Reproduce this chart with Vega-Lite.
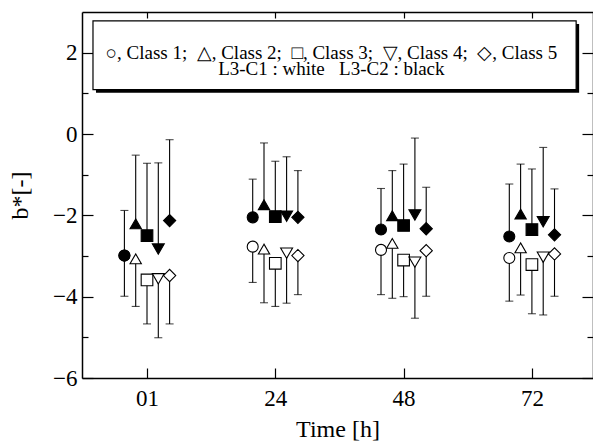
{
  "$schema": "https://vega.github.io/schema/vega-lite/v6.json",
  "width": 511,
  "height": 366,
  "autosize": {"type": "none"},
  "padding": {"left": 82, "top": 12, "right": 0, "bottom": 67},
  "background": "white",
  "resolve": {"scale": {"x": "independent", "xOffset": "independent"}, "axis": {"x": "independent", "y": "independent"}},
  "layer": [
    {
      "data": {
        "values": [
          {"time": "01", "cls": "Class 1", "set": "L3-C1", "mean": -2.99, "end": -3.99},
          {"time": "01", "cls": "Class 2", "set": "L3-C1", "mean": -3.07, "end": -4.24},
          {"time": "01", "cls": "Class 3", "set": "L3-C1", "mean": -3.59, "end": -4.67},
          {"time": "01", "cls": "Class 4", "set": "L3-C1", "mean": -3.56, "end": -5.01},
          {"time": "01", "cls": "Class 5", "set": "L3-C1", "mean": -3.48, "end": -4.67},
          {"time": "24", "cls": "Class 1", "set": "L3-C1", "mean": -2.77, "end": -3.65},
          {"time": "24", "cls": "Class 2", "set": "L3-C1", "mean": -2.83, "end": -4.15},
          {"time": "24", "cls": "Class 3", "set": "L3-C1", "mean": -3.18, "end": -4.24},
          {"time": "24", "cls": "Class 4", "set": "L3-C1", "mean": -2.93, "end": -4.16},
          {"time": "24", "cls": "Class 5", "set": "L3-C1", "mean": -2.99, "end": -3.95},
          {"time": "48", "cls": "Class 1", "set": "L3-C1", "mean": -2.85, "end": -3.95},
          {"time": "48", "cls": "Class 2", "set": "L3-C1", "mean": -2.69, "end": -4.04},
          {"time": "48", "cls": "Class 3", "set": "L3-C1", "mean": -3.10, "end": -4.00},
          {"time": "48", "cls": "Class 4", "set": "L3-C1", "mean": -3.15, "end": -4.53},
          {"time": "48", "cls": "Class 5", "set": "L3-C1", "mean": -2.87, "end": -3.99},
          {"time": "72", "cls": "Class 1", "set": "L3-C1", "mean": -3.05, "end": -4.11},
          {"time": "72", "cls": "Class 2", "set": "L3-C1", "mean": -2.80, "end": -3.96},
          {"time": "72", "cls": "Class 3", "set": "L3-C1", "mean": -3.21, "end": -4.42},
          {"time": "72", "cls": "Class 4", "set": "L3-C1", "mean": -3.03, "end": -4.45},
          {"time": "72", "cls": "Class 5", "set": "L3-C1", "mean": -2.95, "end": -3.99},
          {"time": "01", "cls": "Class 1", "set": "L3-C2", "mean": -2.99, "end": -1.88},
          {"time": "01", "cls": "Class 2", "set": "L3-C2", "mean": -2.21, "end": -0.52},
          {"time": "01", "cls": "Class 3", "set": "L3-C2", "mean": -2.50, "end": -0.72},
          {"time": "01", "cls": "Class 4", "set": "L3-C2", "mean": -2.83, "end": -0.71},
          {"time": "01", "cls": "Class 5", "set": "L3-C2", "mean": -2.13, "end": -0.14},
          {"time": "24", "cls": "Class 1", "set": "L3-C2", "mean": -2.05, "end": -1.11},
          {"time": "24", "cls": "Class 2", "set": "L3-C2", "mean": -1.74, "end": -0.22},
          {"time": "24", "cls": "Class 3", "set": "L3-C2", "mean": -2.03, "end": -0.67},
          {"time": "24", "cls": "Class 4", "set": "L3-C2", "mean": -2.02, "end": -0.56},
          {"time": "24", "cls": "Class 5", "set": "L3-C2", "mean": -2.05, "end": -0.90},
          {"time": "48", "cls": "Class 1", "set": "L3-C2", "mean": -2.35, "end": -1.34},
          {"time": "48", "cls": "Class 2", "set": "L3-C2", "mean": -2.01, "end": -0.90},
          {"time": "48", "cls": "Class 3", "set": "L3-C2", "mean": -2.25, "end": -0.74},
          {"time": "48", "cls": "Class 4", "set": "L3-C2", "mean": -1.99, "end": -0.10},
          {"time": "48", "cls": "Class 5", "set": "L3-C2", "mean": -2.33, "end": -1.31},
          {"time": "72", "cls": "Class 1", "set": "L3-C2", "mean": -2.52, "end": -1.23},
          {"time": "72", "cls": "Class 2", "set": "L3-C2", "mean": -1.97, "end": -0.74},
          {"time": "72", "cls": "Class 3", "set": "L3-C2", "mean": -2.35, "end": -0.86},
          {"time": "72", "cls": "Class 4", "set": "L3-C2", "mean": -2.16, "end": -0.33},
          {"time": "72", "cls": "Class 5", "set": "L3-C2", "mean": -2.48, "end": -1.35}
        ]
      },
      "resolve": {"axis": {"x": "independent", "y": "independent"}},
      "layer": [
        {
          "mark": {"type": "rule", "color": "black", "strokeWidth": 1.1},
          "encoding": {
            "x": {"field": "time", "type": "ordinal",
                  "scale": {"type": "point", "domain": ["01", "24", "48", "72"], "padding": 0.4914, "align": 0.5155},
                  "axis": {"orient": "bottom", "labelAngle": 0, "tickSize": -10, "labelPadding": 19,
                           "title": "Time [h]", "titlePadding": 7}},
            "xOffset": {"field": "cls", "type": "nominal",
                        "scale": {"type": "point", "padding": 0, "range": [-22.6, 22.6]}},
            "y": {"field": "mean", "type": "quantitative",
                  "scale": {"domain": [-6, 3], "nice": false, "zero": false},
                  "axis": {"orient": "left", "values": [-6, -5, -4, -3, -2, -1, 0, 1, 2],
                           "labelExpr": "datum.value % 2 == 0 ? datum.label : ''",
                           "tickSize": {"condition": {"test": "datum.value % 2 == 0", "value": -11}, "value": -6},
                           "labelPadding": 16,
                           "title": "b*[-]", "titlePadding": 20}},
            "y2": {"field": "end"}
          }
        },
        {
          "mark": {"type": "tick", "color": "black", "orient": "horizontal", "size": 8, "thickness": 1.1},
          "encoding": {
            "x": {"field": "time", "type": "ordinal",
                  "scale": {"type": "point", "domain": ["01", "24", "48", "72"], "padding": 0.4914, "align": 0.5155},
                  "axis": {"orient": "top", "labels": false, "tickSize": -6, "title": null}},
            "xOffset": {"field": "cls", "type": "nominal",
                        "scale": {"type": "point", "padding": 0, "range": [-22.6, 22.6]}},
            "y": {"field": "end", "type": "quantitative",
                  "axis": {"orient": "right", "values": [-6, -5, -4, -3, -2, -1, 0, 1, 2], "labels": false,
                           "tickSize": {"condition": {"test": "datum.value % 2 == 0", "value": -11}, "value": -6},
                           "title": null}}
          }
        },
        {
          "mark": {"type": "point", "filled": false, "stroke": "black", "strokeWidth": 1.1, "opacity": 1},
          "encoding": {
            "x": {"field": "time", "type": "ordinal",
                  "scale": {"type": "point", "domain": ["01", "24", "48", "72"], "padding": 0.4914, "align": 0.5155},
                  "axis": null},
            "xOffset": {"field": "cls", "type": "nominal",
                        "scale": {"type": "point", "padding": 0, "range": [-22.6, 22.6]}},
            "y": {"field": "mean", "type": "quantitative", "axis": null},
            "shape": {"field": "cls", "type": "nominal", "legend": null,
                      "scale": {"domain": ["Class 1", "Class 2", "Class 3", "Class 4", "Class 5"],
                                "range": ["circle", "triangle-up", "square", "triangle-down", "diamond"]}},
            "size": {"field": "cls", "type": "nominal", "legend": null,
                     "scale": {"domain": ["Class 1", "Class 2", "Class 3", "Class 4", "Class 5"],
                               "range": [121, 150, 121, 150, 196]}},
            "fill": {"field": "set", "type": "nominal", "legend": null,
                     "scale": {"domain": ["L3-C1", "L3-C2"], "range": ["white", "black"]}}
          }
        }
      ]
    },
    {
      "data": {"values": [{"x0": 0.0215, "x1": 0.967, "y0": 2.78, "y1": 1.09}]},
      "layer": [
        {
          "mark": {"type": "rect", "fill": "black", "xOffset": 3, "x2Offset": 3, "yOffset": 3, "y2Offset": 3},
          "encoding": {
            "x": {"field": "x0", "type": "quantitative", "scale": {"domain": [0, 1], "nice": false, "zero": false}, "axis": null},
            "x2": {"field": "x1"},
            "y": {"field": "y0", "type": "quantitative", "axis": null},
            "y2": {"field": "y1"}
          }
        },
        {
          "mark": {"type": "rect", "fill": "white", "stroke": "black", "strokeWidth": 1.2},
          "encoding": {
            "x": {"field": "x0", "type": "quantitative", "axis": null},
            "x2": {"field": "x1"},
            "y": {"field": "y0", "type": "quantitative", "axis": null},
            "y2": {"field": "y1"}
          }
        },
        {
          "mark": {"type": "text", "font": "Liberation Serif", "fontSize": 19, "color": "black", "align": "center", "baseline": "middle",
                   "text": "○, Class 1;\u00a0 △, Class 2;\u00a0 □, Class 3;\u00a0 ▽, Class 4;\u00a0 ◇, Class 5"},
          "encoding": {
            "x": {"datum": 0.488, "type": "quantitative", "axis": null},
            "y": {"datum": 2.0, "type": "quantitative", "axis": null}
          }
        },
        {
          "mark": {"type": "text", "font": "Liberation Serif", "fontSize": 19, "color": "black", "align": "center", "baseline": "middle",
                   "text": "L3-C1 : white\u00a0\u00a0 L3-C2 : black"},
          "encoding": {
            "x": {"datum": 0.488, "type": "quantitative", "axis": null},
            "y": {"datum": 1.6, "type": "quantitative", "axis": null}
          }
        }
      ]
    }
  ],
  "config": {
    "view": {"stroke": null},
    "axis": {"domain": true, "domainColor": "black", "domainWidth": 1.5, "grid": false, "ticks": true,
             "tickColor": "black", "tickWidth": 1.2,
             "labelFont": "Liberation Serif", "labelFontSize": 23, "labelColor": "black",
             "titleFont": "Liberation Serif", "titleFontSize": 24, "titleFontWeight": "normal", "titleColor": "black"}
  }
}
